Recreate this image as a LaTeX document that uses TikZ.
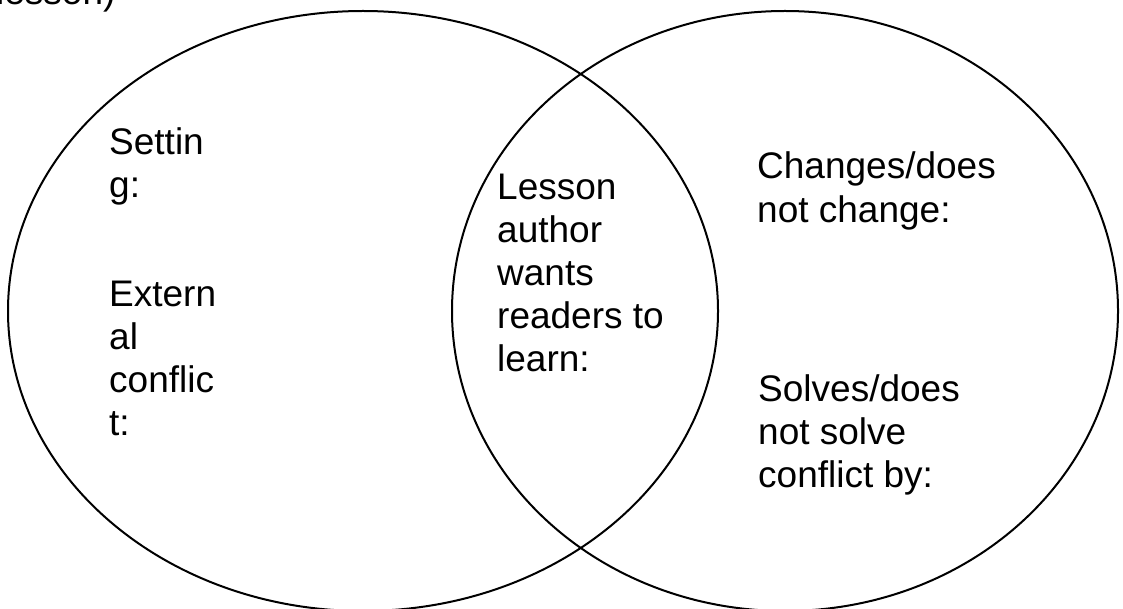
\documentclass[tikz,border=0pt]{standalone}
\usepackage{fontspec}
\setmainfont{Liberation Sans}
\begin{document}
\begin{tikzpicture}[x=1pt,y=-1pt,
  venn/.style={draw=black,line width=2pt},
  lbl/.style={anchor=base west,inner sep=0pt,align=left,
    font=\fontsize{37}{43}\selectfont}]
\useasboundingbox (0,0) rectangle (1123,609);
\draw[venn] (363,311) ellipse [x radius=355,y radius=300];
\draw[venn] (785,311) ellipse [x radius=333,y radius=300];
% base anchor = baseline of the last line
\node[lbl] (top) at (-4,5) {lesson)};
\node[lbl] (setting) at (109,198) {Settin\\g:};
\node[lbl] (external) at (109,435) {Extern\\al\\conflic\\t:};
\node[lbl] (lesson) at (497,371) {Lesson\\author\\wants\\readers to\\learn:};
\node[lbl,font=\fontsize{37}{44}\selectfont] (changes) at (757,223) {Changes/does\\not change:};
\node[lbl] (solves) at (758,487) {Solves/does\\not solve\\conflict by:};
\end{tikzpicture}
\end{document}
